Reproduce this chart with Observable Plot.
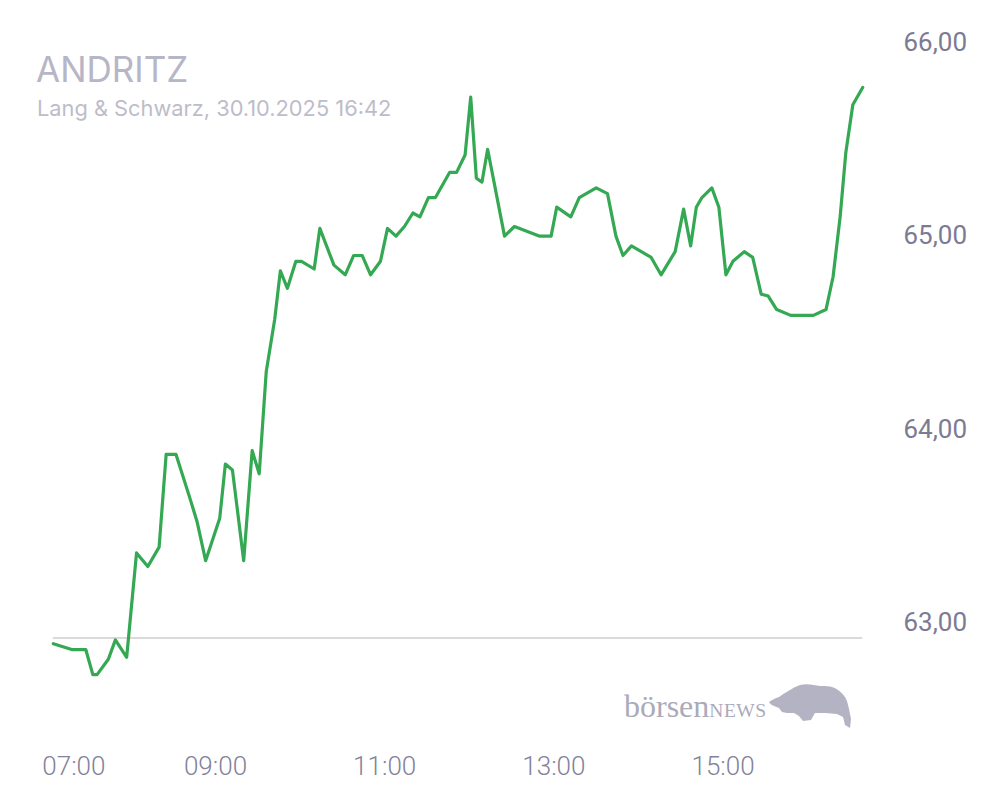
<!DOCTYPE html>
<html>
<head>
<meta charset="utf-8">
<script src="https://cdn.jsdelivr.net/npm/d3@7"></script>
<script src="https://cdn.jsdelivr.net/npm/@observablehq/plot@0.6"></script>
<style>
html,body{margin:0;padding:0;background:#fff;}
#wrap{position:relative;width:1008px;height:810px;overflow:hidden;background:#fff;}
#chart{position:absolute;left:0;top:0;}
#title{position:absolute;left:36px;top:52px;font-family:Inter,"Noto Sans",sans-serif;font-size:35px;font-weight:400;line-height:1;color:#b6b6c6;white-space:nowrap;}
#subtitle{position:absolute;left:37px;top:98px;font-family:Inter,"Noto Sans",sans-serif;font-size:21.8px;font-weight:400;line-height:1;color:#bdbdca;white-space:nowrap;}
#logo{position:absolute;left:624px;top:690px;white-space:nowrap;color:#aaaabb;font-family:"Liberation Serif","DejaVu Serif",serif;line-height:1;}
#logo .a{font-size:32px;}
#logo .b{font-size:19.5px;letter-spacing:0.5px;}
#bull{position:absolute;left:765px;top:678px;}
</style>
</head>
<body>
<div id="wrap">
  <div id="chart"></div>
  <div id="title">ANDRITZ</div>
  <div id="subtitle">Lang &amp; Schwarz, 30.10.2025 16:42</div>
  <div id="logo"><span class="a">börsen</span><span class="b">NEWS</span></div>
  <svg id="bull" width="90" height="56" viewBox="0 0 90 56">
    <path d="M4,24 C7,22 10,20 14,19 C20,15 27,10 35,7 C42,5 49,7 55,8 C62,8 68,8 73,12 C77,15 80,18 82,23 L84,31 L86,41 L85,50 L80,47 L78,39 L72,36 L60,35 L50,35 L46,42 L38,43 L34,38 L29,35 L22,35 L17,34 L14,30 L9,28 C7,27 5,26 4,24 Z" fill="#b3b3c3"/>
  </svg>
</div>
<script>
// ---- data ----
const times = ["07:05","07:18","07:28","07:33","07:36","07:44","07:49","07:57","08:04","08:12",
  "08:20","08:25","08:32","08:42","08:47","08:53","09:03","09:07","09:12","09:20",
  "09:26","09:31","09:36","09:42","09:46","09:51","09:57","10:01","10:10","10:14",
  "10:24","10:32","10:38","10:44","10:50","10:57","11:02","11:08","11:14","11:20",
  "11:25","11:31","11:36","11:46","11:51","11:57","12:01","12:05","12:09","12:13",
  "12:25","12:32","12:50","12:58","13:02","13:12","13:18","13:30","13:38","13:44",
  "13:49","13:55","14:09","14:16","14:26","14:32","14:37","14:41","14:45","14:52",
  "14:57","15:02","15:07","15:15","15:21","15:27","15:32","15:38","15:48","16:04",
  "16:13","16:18","16:23","16:27","16:32","16:39"];
const prices = [62.89,62.86,62.86,62.73,62.73,62.81,62.91,62.82,63.36,63.29,
  63.39,63.87,63.87,63.64,63.52,63.32,63.54,63.82,63.79,63.32,
  63.89,63.77,64.30,64.57,64.82,64.73,64.87,64.87,64.83,65.04,
  64.85,64.80,64.90,64.90,64.80,64.87,65.04,65.00,65.05,65.12,
  65.10,65.20,65.20,65.33,65.33,65.42,65.72,65.30,65.28,65.45,
  65.00,65.05,65.00,65.00,65.15,65.10,65.20,65.25,65.22,65.00,
  64.90,64.95,64.89,64.80,64.92,65.14,64.95,65.15,65.20,65.25,
  65.15,64.80,64.87,64.92,64.89,64.70,64.69,64.62,64.59,64.59,
  64.62,64.79,65.10,65.43,65.68,65.77];
const prevClose = 62.92;
const yTicks = [63, 64, 65, 66];
const xTickLabels = ["07:00","09:00","11:00","13:00","15:00"];

// ---- helpers ----
const toH = s => { const [h, m] = s.split(":").map(Number); return h + m / 60; };
const data = times.map((t, i) => ({t: toH(t), p: prices[i]}));
const xTicks = xTickLabels.map(toH);
const fmtX = h => xTickLabels[xTicks.indexOf(h)];
const fmtY = v => v.toFixed(2).replace(".", ",");

const axisCommon = {anchor: "bottom", tickSize: 0, tickPadding: 6, tickFormat: fmtX, label: null,
  color: "#82829a", fontSize: 26, fontWeight: 300};

const chart = Plot.plot({
  width: 1008,
  height: 810,
  marginLeft: 40,
  marginRight: 128,
  marginTop: 0,
  marginBottom: 60,
  style: {fontFamily: "Roboto, sans-serif", fontSize: "26px", background: "transparent"},
  x: {type: "linear", domain: [7, 15], range: [45.8, 722.6]},
  y: {type: "linear", domain: [63, 66], range: [622, 42.5]},
  marks: [
    Plot.ruleY([prevClose], {x1: () => data[0].t, x2: () => data[data.length - 1].t, stroke: "#dadada", strokeWidth: 2}),
    Plot.line(data, {x: "t", y: "p", stroke: "#34a853", strokeWidth: 3.2, strokeLinejoin: "round", strokeLinecap: "round"}),
    Plot.axisY(yTicks, {anchor: "right", tickSize: 0, tickPadding: 23, textAnchor: "start",
      tickFormat: fmtY, label: null, color: "#7b7b93", fontSize: 26}),
    Plot.axisX(xTicks.slice(0, 1), {...axisCommon, textAnchor: "start", dx: -4}),
    Plot.axisX(xTicks.slice(1), {...axisCommon})
  ]
});
document.getElementById("chart").appendChild(chart);
</script>
</body>
</html>
